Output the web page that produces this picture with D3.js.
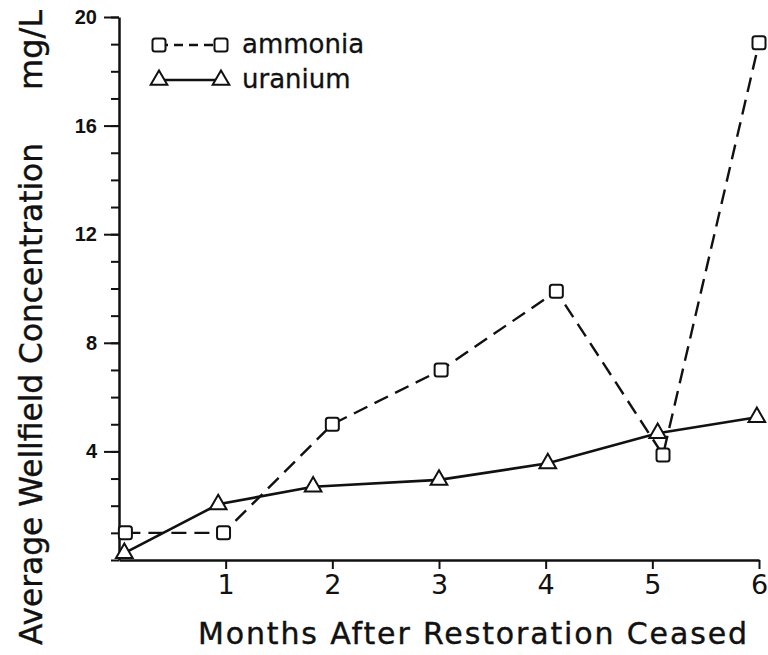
<!DOCTYPE html>
<html>
<head>
<meta charset="utf-8">
<script src="https://cdn.jsdelivr.net/npm/d3@7"></script>
<style>
  body { margin: 0; background: #fff; }
  svg { display: block; }
</style>
</head>
<body>
<div id="chart"></div>
<script>
// data
const seriesNames = ['ammonia', 'uranium'];
const ammoniaMonths = [0.06, 0.98, 2, 3.02, 4.1, 5.1, 6];
const ammoniaValues = [1.0, 1.0, 5.0, 7.0, 9.9, 3.87, 19.05];
const uraniumMonths = [0.05, 0.93, 1.82, 3, 4.02, 5.05, 5.98];
const uraniumValues = [0.25, 2.05, 2.7, 2.95, 3.56, 4.67, 5.26];
const xTicks = [1, 2, 3, 4, 5, 6];
const yMajorTicks = [4, 8, 12, 16, 20];
const yMinorTicks = d3.range(0, 21);

const width = 768;
const height = 655;
const ink = '#111';
const font = '"DejaVu Sans", sans-serif';

const svg = d3
    .select('#chart')
    .append('svg')
    .attr('width', width)
    .attr('height', height);

const x = d3.scaleLinear().domain([0, 6]).range([119, 759]);
const y = d3.scaleLinear().domain([0, 20]).range([560, 17]);

// y axis minor ticks
svg.append('g')
    .attr('transform', `translate(${x(0)},0)`)
    .call(d3.axisLeft(y).tickValues(yMinorTicks).tickSize(8).tickFormat('').tickSizeOuter(0))
    .call((g) => g.select('.domain').remove())
    .call((g) => g.selectAll('line').attr('stroke', ink).attr('stroke-width', 2));

// y axis major ticks + labels
svg.append('g')
    .attr('transform', `translate(${x(0)},0)`)
    .call(d3.axisLeft(y).tickValues(yMajorTicks).tickSize(15).tickPadding(7).tickSizeOuter(0))
    .call((g) => g.select('.domain').attr('stroke', ink).attr('stroke-width', 2.5))
    .call((g) => g.selectAll('line').attr('stroke', ink).attr('stroke-width', 2))
    .call((g) =>
        g.selectAll('text')
            .attr('fill', ink)
            .style('font-family', '"Liberation Sans", Arial, sans-serif')
            .style('font-weight', 'bold')
            .style('font-size', '20px')
    );

// x axis
svg.append('g')
    .attr('transform', `translate(0,${y(0)})`)
    .call(
        d3.axisBottom(x)
            .tickValues(xTicks)
            .tickFormat(d3.format('d'))
            .tickSize(9)
            .tickPadding(6)
            .tickSizeOuter(0)
    )
    .call((g) => g.select('.domain').attr('stroke', ink).attr('stroke-width', 2.5))
    .call((g) => g.selectAll('line').attr('stroke', ink).attr('stroke-width', 2))
    .call((g) =>
        g.selectAll('text')
            .attr('fill', ink)
            .style('font-family', font)
            .style('font-size', '27px')
    );

// axis titles
svg.append('text')
    .attr('x', 198)
    .attr('y', 644)
    .attr('textLength', 549)
    .attr('lengthAdjust', 'spacing')
    .style('font-family', font)
    .style('font-size', '30px')
    .attr('fill', ink)
    .attr('stroke', ink)
    .attr('stroke-width', 0.4)
    .text('Months After Restoration Ceased');

svg.append('text')
    .attr('transform', 'translate(42,645) rotate(-90)')
    .attr('textLength', 502)
    .attr('lengthAdjust', 'spacingAndGlyphs')
    .style('font-family', font)
    .style('font-size', '32px')
    .attr('fill', ink)
    .attr('stroke', ink)
    .attr('stroke-width', 0.4)
    .text('Average Wellfield Concentration');

svg.append('text')
    .attr('transform', 'translate(42,90) rotate(-90)')
    .style('font-family', font)
    .style('font-size', '32px')
    .attr('fill', ink)
    .attr('stroke', ink)
    .attr('stroke-width', 0.4)
    .text('mg/L');

// lines
const ammonia = ammoniaMonths.map((m, i) => ({ m: m, v: ammoniaValues[i] }));
const uranium = uraniumMonths.map((m, i) => ({ m: m, v: uraniumValues[i] }));

const line = d3.line().x((d) => x(d.m)).y((d) => y(d.v));

svg.append('path')
    .datum(uranium)
    .attr('d', line)
    .attr('fill', 'none')
    .attr('stroke', ink)
    .attr('stroke-width', 2.6);

svg.append('path')
    .datum(ammonia)
    .attr('d', line)
    .attr('fill', 'none')
    .attr('stroke', ink)
    .attr('stroke-width', 2.4)
    .attr('stroke-dasharray', '15,8');

const tri = d3.symbol().type(d3.symbolTriangle).size(120);

function drawSquare(sel, cx, cy) {
    sel.append('rect')
        .attr('x', cx - 6.5)
        .attr('y', cy - 6.5)
        .attr('width', 13)
        .attr('height', 13)
        .attr('rx', 2.5)
        .attr('fill', '#fff')
        .attr('stroke', ink)
        .attr('stroke-width', 2);
}

function drawTriangle(sel, cx, cy) {
    sel.append('path')
        .attr('d', tri)
        .attr('transform', `translate(${cx},${cy})`)
        .attr('fill', '#fff')
        .attr('stroke', ink)
        .attr('stroke-width', 2);
}

const markers = svg.append('g');
uranium.forEach((d) => drawTriangle(markers, x(d.m), y(d.v)));
ammonia.forEach((d) => drawSquare(markers, x(d.m), y(d.v)));

// legend
const legend = svg.append('g');
const legendRows = [
    { name: seriesNames[0], y: 45, dashed: true },
    { name: seriesNames[1], y: 80, dashed: false },
];
legendRows.forEach((r) => {
    legend.append('line')
        .attr('x1', 159)
        .attr('x2', 221)
        .attr('y1', r.y)
        .attr('y2', r.y)
        .attr('stroke', ink)
        .attr('stroke-width', 2.4)
        .attr('stroke-dasharray', r.dashed ? '9,6' : null);
    if (r.dashed) {
        drawSquare(legend, 159, r.y);
        drawSquare(legend, 221, r.y);
    } else {
        drawTriangle(legend, 159, r.y);
        drawTriangle(legend, 221, r.y);
    }
    legend.append('text')
        .attr('x', 242)
        .attr('y', r.y + 8)
        .style('font-family', font)
        .style('font-size', '26px')
        .attr('fill', ink)
        .attr('stroke', ink)
        .attr('stroke-width', 0.3)
        .text(r.name);
});
</script>
</body>
</html>
